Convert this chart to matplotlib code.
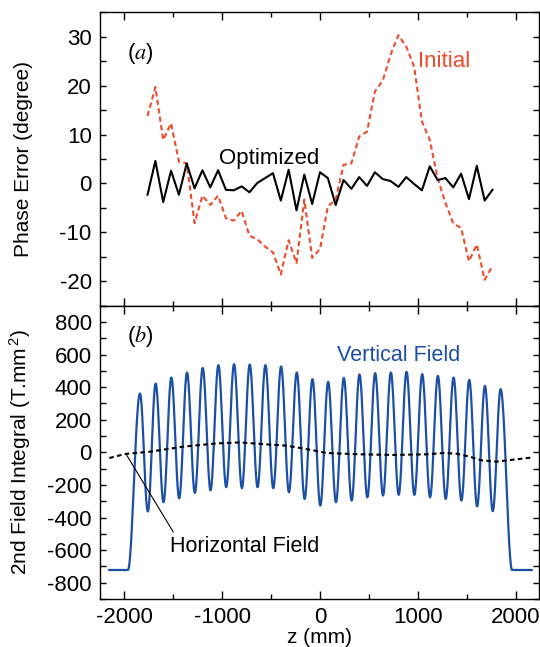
import numpy as np
import matplotlib.pyplot as plt

plt.rcParams['font.family'] = ['Liberation Sans', 'DejaVu Sans']
plt.rcParams['mathtext.default'] = 'regular'
plt.rcParams['axes.unicode_minus'] = False

# (a) phase error, one point every 80 mm
phase_z = np.arange(-1760, 1761, 80)
optimized = [-2.3, 4.6, -3.8, 2.6, -2.3, 4.1, -1.0, 2.7, -0.8, 2.7,
             -1.3, -1.4, -0.6, -1.8, 0.1, 1.1, 2.1, -3.5, 2.8, -5.5,
             1.8, -4.2, 2.3, 1.1, -4.4, 0.7, -1.1, 1.3, -0.5, 2.3,
             0.9, 0.5, -0.7, 1.3, -0.1, -1.4, 3.5, 0.7, 1.1, -0.8,
             2.0, -3.2, 3.6, -3.5, -1.3]
initial = [13.8, 19.7, 8.9, 12.3, 4.5, 4.1, -8.1, -2.5, -4.4, -2.5,
           -7.1, -7.6, -5.6, -10.7, -11.4, -12.9, -14.1, -18.6, -11.6, -16.3,
           -3.3, -15.2, -13.4, -4.7, -3.3, 3.8, 4.1, 9.6, 10.6, 18.8,
           21.0, 26.3, 30.3, 28.0, 23.9, 12.7, 8.9, 1.1, -4.0, -8.2,
           -9.1, -15.9, -12.5, -19.7, -16.9]

# (b) vertical field: extrema (peaks start at -1837 mm, half period 80 mm)
vert_peaks = [361, 422, 459, 490, 518, 535, 541, 539, 535, 527, 490, 449,
              433, 457, 478, 486, 490, 494, 480, 469, 459, 445, 408, 388]
vert_troughs = [-363, -306, -282, -249, -233, -214, -220, -214, -220, -245,
                -286, -327, -306, -296, -276, -265, -261, -261, -276, -286,
                -296, -331, -361]
vert_first_peak = -1837
vert_half_period = 80
vert_flat = -722
vert_edges = [-2150, -1960, 1960, 2160]

horiz_z = [-2150, -1990, -1735, -1395, -1054, -820, -544, -340, -136,
           68, 408, 748, 1088, 1258, 1394, 1530, 1649, 1802, 2170]
horiz_val = [-35, -10, 4, 35, 55, 61, 49, 41, 20,
             -4, -12, -16, -12, -4, -8, -27, -49, -57, -31]

red = '#ee4b2b'
blue = '#1c4fa6'

# build smooth vertical field curve through the extrema
knot_z = [vert_edges[0], vert_edges[1]]
knot_v = [vert_flat, vert_flat]
for i, p in enumerate(vert_peaks):
    knot_z.append(vert_first_peak + 2 * i * vert_half_period)
    knot_v.append(p)
    if i < len(vert_troughs):
        knot_z.append(vert_first_peak + (2 * i + 1) * vert_half_period)
        knot_v.append(vert_troughs[i])
knot_z += [vert_edges[2], vert_edges[3]]
knot_v += [vert_flat, vert_flat]

vz, vv = [], []
t = np.linspace(0, 1, 25)
for k in range(len(knot_z) - 1):
    s = (1 - np.cos(np.pi * t)) / 2
    vz.extend(knot_z[k] + (knot_z[k + 1] - knot_z[k]) * t)
    vv.extend(knot_v[k] + (knot_v[k + 1] - knot_v[k]) * s)

fig = plt.figure(figsize=(5.4, 6.47), dpi=100)
ax1 = fig.add_axes([0.1852, 0.5275, 0.813, 0.4535])
ax2 = fig.add_axes([0.1852, 0.0742, 0.813, 0.4533], sharex=ax1)

ax1.plot(phase_z, initial, color=red, lw=1.5, dashes=(2.5, 1.6))
ax1.plot(phase_z, optimized, color='black', lw=1.5)
ax1.text(1000, 25, 'Initial', color=red, fontsize=16, va='center')
ax1.text(-1028, 5.2, 'Optimized', fontsize=16, va='center')
ax1.text(-1966, 26.6, r'$(\mathit{a})$', fontsize=16, va='center',
         math_fontfamily='stix')
ax1.set_ylim(-25, 35)
ax1.set_yticks(range(-20, 31, 10))
ax1.set_yticks(range(-25, 36, 5), minor=True)
ax1.set_ylabel('Phase Error (degree)', fontsize=15)
ax1.tick_params(labelbottom=False)

ax2.plot(vz, vv, color=blue, lw=1.6)
ax2.plot(horiz_z, horiz_val, color='black', lw=1.5, dashes=(2.2, 1.6))
ax2.text(173, 592, 'Vertical Field', color=blue, fontsize=15.5, va='center')
ax2.text(-1530, -579, 'Horizontal Field', fontsize=15.5, va='center')
ax2.annotate('', xy=(-1980, -10), xytext=(-1497, -489),
             arrowprops=dict(arrowstyle='-', lw=0.8, color='black',
                             shrinkA=0, shrinkB=0))
ax2.text(-1966, 714, r'$(\mathit{b})$', fontsize=16, va='center',
         math_fontfamily='stix')
ax2.set_ylim(-900, 900)
ax2.set_yticks(range(-800, 801, 200))
ax2.set_yticks(range(-900, 901, 100), minor=True)
ax2.set_ylabel(r'2nd Field Integral (T.mm$^{\,2}$)', fontsize=15)
ax2.set_xlabel('z (mm)', fontsize=15, labelpad=0)

ax2.set_xlim(-2245, 2235)
ax2.set_xticks(range(-2000, 2001, 1000))
ax2.set_xticks(range(-2000, 2001, 500), minor=True)

for ax in (ax1, ax2):
    ax.tick_params(which='both', direction='in', top=True, right=True,
                   labelsize=16, pad=6, width=1)
    ax.tick_params(axis='x', which='major', length=6)
    ax.tick_params(axis='x', which='minor', length=3.5)
    ax.tick_params(axis='y', which='both', length=4.5)
    ax.yaxis.set_label_coords(-0.153, 0.5)
    for sp in ax.spines.values():
        sp.set_linewidth(1)

plt.savefig('out.png', dpi=100)
